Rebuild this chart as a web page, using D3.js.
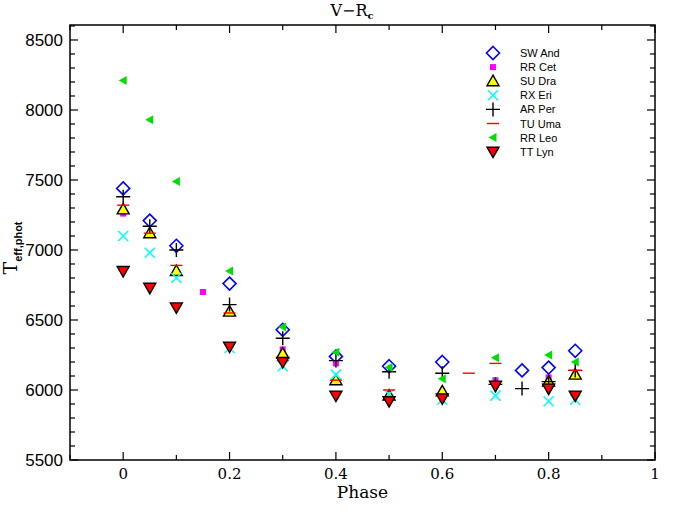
<!DOCTYPE html>
<html>
<head>
<meta charset="utf-8">
<script src="https://cdn.jsdelivr.net/npm/d3@7"></script>
<style>
  body { margin: 0; background: #fff; }
  svg { display: block; }
</style>
</head>
<body>
<svg id="chart"></svg>
<script>
// T_eff,phot vs phase, V-Rc

var swAnd = [[0, 7440], [0.05, 7210], [0.1, 7030], [0.2, 6760], [0.3, 6430], [0.4, 6240], [0.5, 6170], [0.6, 6200], [0.75, 6140], [0.8, 6160], [0.85, 6280]];
var rrCet = [[0, 7260], [0.15, 6700], [0.3, 6290], [0.4, 6190], [0.7, 6070], [0.8, 6090]];
var suDra = [[0, 7290], [0.05, 7120], [0.1, 6850], [0.2, 6560], [0.3, 6260], [0.4, 6070], [0.5, 5960], [0.6, 5990], [0.8, 6060], [0.85, 6110]];
var rxEri = [[0, 7100], [0.05, 6980], [0.1, 6800], [0.2, 6300], [0.3, 6170], [0.4, 6110], [0.5, 5970], [0.6, 5930], [0.7, 5960], [0.8, 5920], [0.85, 5930]];
var arPer = [[0, 7380], [0.05, 7170], [0.1, 7000], [0.2, 6610], [0.3, 6370], [0.4, 6210], [0.5, 6130], [0.6, 6120], [0.7, 6040], [0.75, 6010], [0.8, 6060], [0.85, 6140]];
var tuUma = [[0, 7320], [0.05, 7120], [0.1, 6890], [0.2, 6550], [0.3, 6210], [0.4, 6070], [0.5, 6000], [0.65, 6120], [0.7, 6190], [0.8, 6040], [0.85, 6140]];
var rrLeo = [[0, 8210], [0.05, 7930], [0.1, 7490], [0.2, 6850], [0.3, 6450], [0.4, 6270], [0.5, 6160], [0.6, 6080], [0.7, 6230], [0.8, 6250], [0.85, 6200]];
var ttLyn = [[0, 6850], [0.05, 6730], [0.1, 6590], [0.2, 6310], [0.3, 6200], [0.4, 5960], [0.5, 5920], [0.6, 5940], [0.7, 6030], [0.8, 6010], [0.85, 5960]];

var starNames = ["SW And", "RR Cet", "SU Dra", "RX Eri", "AR Per", "TU Uma", "RR Leo", "TT Lyn"];
var xTicks = [0, 0.2, 0.4, 0.6, 0.8, 1];
var yTicks = [5500, 6000, 6500, 7000, 7500, 8000, 8500];

var svgWidth = 694, svgHeight = 518;
var plotLeft = 70, plotRight = 655, plotTop = 25, plotBottom = 460;

var svg = d3.select("#chart")
    .attr("width", svgWidth)
    .attr("height", svgHeight);

var x = d3.scaleLinear().domain([-0.1, 1]).range([plotLeft, plotRight]);
var y = d3.scaleLinear().domain([5500, 8607]).range([plotBottom, plotTop]);

// frame
svg.append("rect")
    .attr("x", plotLeft).attr("y", plotTop)
    .attr("width", plotRight - plotLeft).attr("height", plotBottom - plotTop)
    .attr("fill", "none").attr("stroke", "#000").attr("stroke-width", 1.5);

// ticks (inward, all four sides)
var xMinor = d3.range(-0.1, 1.0001, 0.1).map(function(d) { return +d.toFixed(2); });
var yMinor = d3.range(5500, 8601, 100);

xMinor.forEach(function(d) {
    var major = Math.abs(Math.round(d * 10) % 2) === 0;
    var len = major ? 8 : 5;
    svg.append("line").attr("x1", x(d)).attr("x2", x(d)).attr("y1", plotBottom).attr("y2", plotBottom - len)
        .attr("stroke", "#000").attr("stroke-width", 1.2);
    svg.append("line").attr("x1", x(d)).attr("x2", x(d)).attr("y1", plotTop).attr("y2", plotTop + len)
        .attr("stroke", "#000").attr("stroke-width", 1.2);
});
yMinor.forEach(function(d) {
    var len = d % 500 === 0 ? 8 : 5;
    svg.append("line").attr("x1", plotLeft).attr("x2", plotLeft + len).attr("y1", y(d)).attr("y2", y(d))
        .attr("stroke", "#000").attr("stroke-width", 1.2);
    svg.append("line").attr("x1", plotRight).attr("x2", plotRight - len).attr("y1", y(d)).attr("y2", y(d))
        .attr("stroke", "#000").attr("stroke-width", 1.2);
});

// tick labels
svg.selectAll(".xl").data(xTicks).enter().append("text")
    .attr("x", function(d) { return x(d); })
    .attr("y", 479)
    .attr("text-anchor", "middle")
    .attr("font-family", "DejaVu Serif, serif")
    .attr("font-size", 15)
    .text(function(d) { return d; });

svg.selectAll(".yl").data(yTicks).enter().append("text")
    .attr("x", 63)
    .attr("y", function(d) { return y(d) + 6; })
    .attr("text-anchor", "end")
    .attr("font-family", "Liberation Sans, Arial, sans-serif")
    .attr("font-size", 17)
    .text(function(d) { return d; });

// axis titles
svg.append("text")
    .attr("x", x(0.45)).attr("y", 498)
    .attr("text-anchor", "middle")
    .attr("font-family", "DejaVu Serif, serif")
    .attr("font-size", 17)
    .text("Phase");

var yl = svg.append("text")
    .attr("transform", "translate(17,248) rotate(-90)")
    .attr("text-anchor", "middle")
    .attr("font-family", "DejaVu Serif, serif")
    .attr("font-size", 19);
yl.append("tspan").text("T");
yl.append("tspan").attr("dy", 5).attr("font-size", 11).attr("font-weight", "bold")
    .attr("font-family", "Liberation Sans, Arial, sans-serif").text("eff,phot");

var title = svg.append("text")
    .attr("x", 352).attr("y", 16)
    .attr("text-anchor", "middle")
    .attr("font-family", "DejaVu Serif, serif")
    .attr("font-size", 16);
title.append("tspan").text("V\u2212R");
title.append("tspan").attr("dy", 3).attr("font-size", 10).attr("font-weight", "bold").text("c");

// marker drawing
function drawMarker(g, type) {
    if (type === "SW And") {
        g.append("path").attr("d", "M0,-6.5L6.5,0L0,6.5L-6.5,0Z")
            .attr("fill", "none").attr("stroke", "#0000ff").attr("stroke-width", 1.6);
    } else if (type === "RR Cet") {
        g.append("rect").attr("x", -3).attr("y", -3).attr("width", 6).attr("height", 6)
            .attr("fill", "#ff00ff");
    } else if (type === "SU Dra") {
        g.append("path").attr("d", "M0,-6L6,4.5L-6,4.5Z")
            .attr("fill", "#ffff00").attr("stroke", "#000").attr("stroke-width", 1.4);
    } else if (type === "RX Eri") {
        g.append("path").attr("d", "M-5,-5L5,5M-5,5L5,-5")
            .attr("stroke", "#00ffff").attr("stroke-width", 1.5);
    } else if (type === "AR Per") {
        g.append("path").attr("d", "M-7,0L7,0M0,-7L0,7")
            .attr("stroke", "#000").attr("stroke-width", 1.4);
    } else if (type === "TU Uma") {
        g.append("path").attr("d", "M-6,0L6,0")
            .attr("stroke", "#ff0000").attr("stroke-width", 1.4);
    } else if (type === "RR Leo") {
        g.append("path").attr("d", "M-4.5,0L3.5,-4.5L3.5,4.5Z")
            .attr("fill", "#00dd00");
    } else if (type === "TT Lyn") {
        g.append("path").attr("d", "M0,6L6,-4.5L-6,-4.5Z")
            .attr("fill", "#ff0000").attr("stroke", "#000").attr("stroke-width", 1.4);
    }
}

var seriesData = [swAnd, rrCet, suDra, rxEri, arPer, tuUma, rrLeo, ttLyn];

seriesData.forEach(function(data, i) {
    var name = starNames[i];
    svg.append("g").selectAll("g").data(data).enter().append("g")
        .attr("transform", function(d) { return "translate(" + x(d[0]) + "," + y(d[1]) + ")"; })
        .each(function() { drawMarker(d3.select(this), name); });
});

// legend
var legend = svg.append("g").attr("transform", "translate(493,53)");
starNames.forEach(function(name, i) {
    var row = legend.append("g").attr("transform", "translate(0," + (i * 14.1) + ")");
    drawMarker(row.append("g"), name);
    row.append("text")
        .attr("x", 27).attr("y", 4)
        .attr("font-family", "Liberation Sans, Arial, sans-serif")
        .attr("font-size", 11)
        .text(name);
});
</script>
</body>
</html>
